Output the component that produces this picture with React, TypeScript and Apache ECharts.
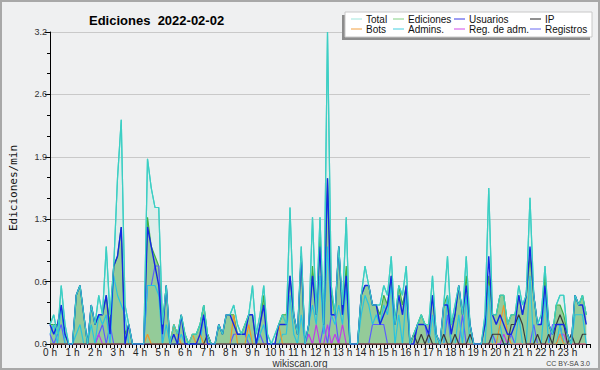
import React, { useEffect, useRef } from "react";
import * as echarts from "echarts";

// time of each sample, minutes since 00:00 (10-minute steps)
const minutes: number[] = Array.from({ length: 144 }, (_, i) => i * 10);

const legendNames = ["Total", "Ediciones", "Usuarios", "IP", "Bots", "Admins.", "Reg. de adm.", "Registros"];
const yTickLabels = ["0.0", "0.6", "1.3", "1.9", "2.6", "3.2"];

const total = [
  0.2, 0.3, 0.1, 0.6, 0.2, 0,
  0, 0.5, 0.6, 0.3, 0, 0.4,
  0.2, 0.5, 0.3, 1.0, 0.3, 0.8,
  1.7, 2.3, 0.4, 0.2, 0, 0,
  0, 0, 1.9, 1.6, 1.4, 1.4,
  0.2, 0.6, 0, 0.2, 0.1, 0.3,
  0.1, 0, 0.1, 0.1, 0.2, 0.4,
  0.1, 0, 0, 0.2, 0.1, 0.3,
  0.3, 0.4, 0.2, 0.1, 0.2, 0.3,
  0.6, 0.1, 0.3, 0.6, 0.1, 0,
  0.1, 0.2, 0.3, 0.2, 1.4, 0.3,
  0.1, 1.0, 0, 0.2, 1.3, 0.3,
  1.3, 0.2, 3.2, 0.6, 0.3, 1.0,
  0.4, 1.3, 0, 0, 0, 0.5,
  0.8, 0.6, 0.4, 0.4, 0.4, 0.6,
  0.5, 0.9, 0.2, 0.6, 0.5, 0.8,
  0, 0.1, 0.2, 0.3, 0.2, 0.2,
  0.7, 0.1, 0, 0.4, 0.9, 0.2,
  0.4, 0.6, 0.3, 0.9, 0.2, 0,
  0, 0, 0.3, 1.6, 0.3, 0.3,
  0.5, 0.5, 0.2, 0.3, 0.3, 0.6,
  0.4, 0.5, 1.5, 0.5, 0.2, 0.3,
  0.8, 0.2, 0.1, 0.4, 0.5, 0.5,
  0.1, 0, 0.5, 0.4, 0.5, 0.3,
];

const ediciones = [
  0.2, 0.2, 0.2, 0.4, 0.1, 0,
  0, 0.5, 0.6, 0.3, 0, 0.4,
  0.2, 0.3, 0.3, 0.5, 0.2, 0.8,
  0.9, 1.2, 0.1, 0.2, 0, 0,
  0, 0, 1.3, 1.0, 0.9, 0.8,
  0.2, 0.6, 0, 0.2, 0.1, 0.3,
  0.1, 0, 0.1, 0.1, 0.2, 0.4,
  0.1, 0, 0, 0.2, 0.1, 0.3,
  0.3, 0.3, 0.1, 0.1, 0.2, 0.3,
  0.3, 0, 0.2, 0.5, 0, 0,
  0, 0.2, 0.3, 0.3, 0.7, 0.3,
  0.1, 0.9, 0, 0.2, 0.8, 0.3,
  1.1, 0.2, 1.7, 0.5, 0.3, 1.0,
  0.3, 0.8, 0, 0, 0, 0.5,
  0.6, 0.6, 0.4, 0.4, 0.3, 0.5,
  0.4, 0.7, 0.2, 0.6, 0.4, 0.6,
  0, 0.1, 0.2, 0.3, 0.2, 0.2,
  0.5, 0.1, 0, 0.4, 0.5, 0.2,
  0.3, 0.6, 0.3, 0.7, 0.2, 0,
  0, 0, 0.2, 0.7, 0.3, 0.3,
  0.5, 0.5, 0.2, 0.3, 0.3, 0.5,
  0.3, 0.5, 0.9, 0.5, 0.2, 0.2,
  0.7, 0.2, 0.1, 0.4, 0.4, 0.3,
  0.1, 0, 0.5, 0.4, 0.5, 0.3,
];

const usuarios = [
  0.2, 0.1, 0.2, 0.4, 0.1, 0,
  0, 0.5, 0.6, 0.3, 0, 0.4,
  0.2, 0.3, 0.3, 0.5, 0.1, 0.8,
  0.9, 1.2, 0, 0.2, 0, 0,
  0, 0, 1.2, 1.0, 0.8, 0.6,
  0.1, 0.6, 0, 0.1, 0, 0.3,
  0, 0, 0, 0, 0.1, 0.3,
  0, 0, 0, 0.2, 0.1, 0.3,
  0.3, 0.2, 0.1, 0.1, 0.1, 0.3,
  0.3, 0, 0.2, 0.4, 0, 0,
  0, 0.2, 0.2, 0.2, 0.7, 0.3,
  0.1, 0.9, 0, 0.2, 0.7, 0.3,
  1.0, 0.2, 1.7, 0.3, 0.3, 1.0,
  0.3, 0.7, 0, 0, 0, 0.5,
  0.6, 0.6, 0.4, 0.4, 0.2, 0.3,
  0.4, 0.7, 0.2, 0.5, 0.3, 0.6,
  0, 0, 0.2, 0.2, 0.2, 0.1,
  0.5, 0.1, 0, 0.4, 0.4, 0.1,
  0.3, 0.6, 0.3, 0.6, 0.2, 0,
  0, 0, 0.2, 0.9, 0.3, 0.2,
  0.3, 0.2, 0.1, 0.1, 0.2, 0.5,
  0.3, 0.5, 1.0, 0.5, 0.2, 0.2,
  0.6, 0.2, 0.1, 0.2, 0.2, 0.2,
  0.1, 0, 0.5, 0.4, 0.4, 0.2,
];

const ip = [
  0, 0, 0, 0, 0, 0,
  0, 0, 0, 0, 0, 0,
  0, 0, 0, 0, 0, 0,
  0, 0, 0, 0, 0, 0,
  0, 0, 0, 0, 0, 0,
  0, 0, 0, 0, 0, 0,
  0, 0, 0, 0, 0, 0,
  0.1, 0, 0, 0, 0, 0,
  0, 0, 0, 0, 0, 0,
  0, 0, 0, 0, 0, 0,
  0, 0, 0, 0, 0, 0,
  0, 0, 0, 0, 0, 0,
  0, 0, 0, 0, 0, 0,
  0, 0, 0, 0, 0, 0,
  0, 0, 0, 0, 0, 0,
  0, 0, 0, 0, 0, 0,
  0, 0.1, 0, 0.1, 0, 0.1,
  0, 0, 0, 0.1, 0, 0,
  0.1, 0, 0, 0, 0.1, 0,
  0, 0, 0, 0, 0.1, 0.1,
  0.1, 0, 0, 0.2, 0.2, 0.3,
  0.2, 0, 0, 0, 0.1, 0,
  0, 0.1, 0, 0.2, 0.3, 0.2,
  0, 0.1, 0, 0, 0.1, 0.1,
];

const bots = [
  0, 0, 0, 0, 0, 0,
  0, 0, 0, 0, 0, 0,
  0, 0, 0, 0, 0, 0,
  0, 0, 0, 0, 0, 0,
  0, 0, 0.1, 0, 0, 0,
  0, 0, 0, 0.2, 0.1, 0,
  0, 0, 0.1, 0, 0.1, 0,
  0, 0, 0, 0, 0, 0,
  0, 0.3, 0, 0, 0, 0.2,
  0, 0, 0, 0, 0, 0,
  0, 0.2, 0, 0, 0, 0,
  0, 0, 0, 0, 0, 0,
  0, 0, 0, 0, 0, 0,
  0, 0, 0, 0, 0, 0,
  0, 0, 0, 0, 0, 0,
  0, 0, 0, 0, 0, 0,
  0, 0, 0, 0, 0, 0,
  0, 0, 0, 0, 0, 0,
  0, 0, 0, 0, 0, 0,
  0, 0, 0, 0, 0, 0,
  0.2, 0.4, 0.1, 0, 0, 0,
  0, 0, 0, 0, 0, 0,
  0, 0, 0, 0, 0.1, 0,
  0, 0, 0, 0, 0, 0,
];

const admins = [
  0.1, 0.2, 0, 0.4, 0, 0,
  0, 0.1, 0.2, 0, 0, 0.2,
  0, 0.3, 0.2, 0.3, 0, 0.7,
  0.5, 0.4, 0.3, 0, 0, 0,
  0, 0, 0.6, 0.6, 0.6, 0.5,
  0, 0.2, 0, 0, 0, 0.1,
  0, 0, 0, 0, 0, 0.3,
  0, 0, 0, 0, 0, 0,
  0, 0, 0, 0, 0, 0.1,
  0, 0, 0.1, 0.2, 0, 0,
  0, 0, 0.1, 0.1, 0.5, 0.1,
  0, 0.3, 0, 0.2, 0.4, 0.2,
  0.7, 0.1, 1.0, 0.3, 0.2, 0.4,
  0.2, 0.6, 0, 0, 0, 0.3,
  0.5, 0.4, 0.2, 0.3, 0.2, 0.4,
  0.3, 0.6, 0, 0.3, 0, 0.5,
  0, 0, 0, 0, 0, 0,
  0.3, 0, 0, 0, 0.5, 0,
  0, 0.3, 0, 0.5, 0, 0,
  0, 0, 0, 0.6, 0, 0,
  0.2, 0, 0, 0, 0, 0.3,
  0, 0, 0.7, 0, 0, 0,
  0.5, 0, 0, 0, 0.2, 0,
  0, 0, 0.3, 0.3, 0.3, 0,
];

const regAdm = [
  0, 0, 0, 0, 0, 0,
  0, 0, 0, 0, 0, 0,
  0, 0.1, 0, 0, 0, 0,
  0, 0, 0, 0, 0, 0,
  0, 0, 0, 0, 0, 0,
  0, 0, 0, 0, 0, 0,
  0, 0, 0, 0, 0, 0,
  0, 0, 0, 0, 0, 0,
  0, 0, 0, 0, 0, 0,
  0, 0, 0, 0, 0, 0,
  0, 0, 0, 0, 0, 0,
  0, 0, 0, 0.1, 0, 0.2,
  0, 0, 0.2, 0, 0.1, 0,
  0.2, 0, 0, 0, 0, 0,
  0, 0, 0, 0, 0, 0,
  0, 0, 0, 0, 0, 0,
  0, 0, 0, 0, 0, 0,
  0, 0, 0, 0, 0, 0,
  0, 0, 0, 0, 0, 0,
  0, 0, 0, 0, 0, 0,
  0, 0.1, 0, 0, 0, 0,
  0, 0, 0, 0, 0, 0,
  0, 0, 0, 0, 0.1, 0.1,
  0, 0, 0, 0, 0, 0,
];

const registros = [
  0.1, 0, 0.1, 0.2, 0, 0,
  0, 0, 0, 0, 0, 0,
  0, 0.1, 0.2, 0, 0.2, 0,
  0, 0, 0, 0, 0, 0,
  0, 0, 0.6, 0.6, 0.8, 0.8,
  0, 0, 0, 0, 0, 0,
  0, 0, 0, 0, 0, 0,
  0, 0, 0, 0, 0, 0,
  0, 0.1, 0.1, 0.1, 0.1, 0,
  0, 0, 0.1, 0, 0, 0,
  0, 0, 0, 0, 0, 0,
  0, 0, 0, 0, 0, 0,
  0, 0.2, 0, 0.3, 0.3, 0,
  0, 0, 0, 0, 0, 0,
  0, 0, 0.2, 0.2, 0.2, 0.2,
  0, 0, 0, 0, 0, 0,
  0, 0, 0.2, 0.2, 0.2, 0,
  0, 0, 0, 0, 0.3, 0,
  0, 0, 0.3, 0, 0, 0,
  0, 0, 0, 0, 0.1, 0,
  0, 0, 0, 0.1, 0, 0,
  0, 0, 0, 0.2, 0, 0,
  0, 0, 0.2, 0.2, 0.2, 0,
  0, 0, 0, 0, 0, 0,
];

const colors = {
  total: "#3ccfc4",
  ediciones: "#3fb144",
  usuarios: "#1428e4",
  ip: "#3a3a3a",
  bots: "#f0952a",
  admins: "#28c4e0",
  regAdm: "#c23ce6",
  registros: "#5a5cff",
};
const legendColors = ["#9fe6dd", "#84d184", "#3b3be6", "#222222", "#f2a040", "#45cfe0", "#d04ae8", "#6a6af2"];

export default function App() {
  const ref = useRef<HTMLDivElement>(null);
  useEffect(() => {
    document.body.style.margin = "0";
    const chart = echarts.init(ref.current!, null, { renderer: "svg" });
    const pts = (arr: number[]) => arr.map((v, i) => [minutes[i], v]);
    const lineSeries = (name: string, arr: number[], color: string, width: number, z: number) => ({
      name,
      type: "line",
      data: pts(arr),
      symbol: "none",
      z,
      lineStyle: { color, width },
      itemStyle: { color },
    });

    const colX = [366, 408, 469, 545];
    const rowY = [19, 29];
    const legendEls: any[] = [
      { type: "rect", shape: { x: 342, y: 15, width: 248, height: 25 }, style: { fill: "#8c8c8c" }, z: 10 },
      { type: "rect", shape: { x: 345, y: 12, width: 247, height: 25 }, style: { fill: "#ffffff", stroke: "#c8c8c8", lineWidth: 1 }, z: 11 },
    ];
    legendNames.forEach((n, k) => {
      const c = k % 4;
      const r = Math.floor(k / 4);
      legendEls.push({
        type: "line",
        shape: { x1: colX[c] - 15, y1: rowY[r], x2: colX[c] - 4, y2: rowY[r] },
        style: { stroke: legendColors[k], lineWidth: 1 },
        z: 12,
      });
      legendEls.push({
        type: "text",
        x: colX[c],
        y: rowY[r],
        style: { text: n, fill: "#111", fontSize: 10, fontFamily: "Liberation Sans", verticalAlign: "middle", lineHeight: 10 },
        z: 12,
      });
    });

    chart.setOption({
      animation: false,
      backgroundColor: "#eff0f1",
      title: {
        text: "Ediciones  2022-02-02",
        left: 84,
        top: 9,
        textStyle: { fontSize: 13, fontWeight: "bold", fontFamily: "Liberation Sans", color: "#000" },
      },
      grid: { left: 46, right: 10, top: 32, bottom: 26, containLabel: false },
      xAxis: {
        type: "value",
        min: 0,
        max: 1440,
        interval: 60,
        axisLine: { show: true, lineStyle: { color: "#000", width: 1 } },
        axisTick: { show: true, length: 4, lineStyle: { color: "#000" } },
        minorTick: { show: true, splitNumber: 6, length: 4, lineStyle: { color: "#000" } },
        splitLine: { show: false },
        axisLabel: {
          formatter: (v: number) => (v < 1440 ? `${v / 60} h` : ""),
          fontSize: 10,
          fontFamily: "Liberation Sans",
          color: "#222",
          margin: 4,
          lineHeight: 9,
        },
      },
      yAxis: {
        type: "value",
        min: 0,
        max: 3.2,
        interval: 0.64,
        name: "Ediciones/min",
        nameLocation: "middle",
        nameRotate: 90,
        nameGap: 31,
        nameTextStyle: { fontFamily: "DejaVu Sans Mono", fontSize: 11, color: "#111" },
        axisLine: { show: true, lineStyle: { color: "#000", width: 1 } },
        axisTick: { show: true, length: 5, lineStyle: { color: "#000" } },
        minorTick: { show: true, splitNumber: 3, length: 3, lineStyle: { color: "#000" } },
        splitLine: { show: true, lineStyle: { color: "#c9c9c9", width: 1 } },
        axisLabel: {
          formatter: (v: number) => yTickLabels[Math.round(v / 0.64)] ?? "",
          fontSize: 9,
          fontFamily: "Liberation Sans",
          color: "#333",
          margin: 3,
          lineHeight: 7,
        },
      },
      graphic: [
        { type: "rect", shape: { x: 1, y: 1, width: 598, height: 368 }, style: { fill: "none", stroke: "#a8a8a8", lineWidth: 2 }, z: 20 },
        ...legendEls,
        {
          type: "text",
          x: 300,
          y: 363,
          style: { text: "wikiscan.org", fill: "#333", fontSize: 10, fontFamily: "Liberation Sans", align: "center", verticalAlign: "middle", lineHeight: 10 },
        },
        {
          type: "text",
          x: 590,
          y: 363.5,
          style: { text: "CC BY-SA 3.0", fill: "#444", fontSize: 7, fontFamily: "Liberation Sans", align: "right", verticalAlign: "middle", lineHeight: 7 },
        },
      ],
      series: [
        {
          ...lineSeries(legendNames[0], total, colors.total, 1.2, 2),
          areaStyle: { color: "rgba(110,215,200,0.18)" },
        },
        {
          ...lineSeries(legendNames[1], ediciones, colors.ediciones, 1.2, 3),
          areaStyle: { color: "#8fc995", opacity: 0.95 },
        },
        lineSeries(legendNames[7], registros, colors.registros, 1.2, 4),
        lineSeries(legendNames[6], regAdm, colors.regAdm, 1.2, 4),
        lineSeries(legendNames[5], admins, colors.admins, 1.2, 4),
        lineSeries(legendNames[4], bots, colors.bots, 1.2, 4),
        lineSeries(legendNames[3], ip, colors.ip, 1.2, 4),
        lineSeries(legendNames[2], usuarios, colors.usuarios, 1.4, 5),
        { ...lineSeries(legendNames[0] + " ", total, colors.total, 1.2, 6), silent: true },
      ],
    });
    return () => chart.dispose();
  }, []);
  return <div ref={ref} style={{ width: 600, height: 370 }} />;
}
